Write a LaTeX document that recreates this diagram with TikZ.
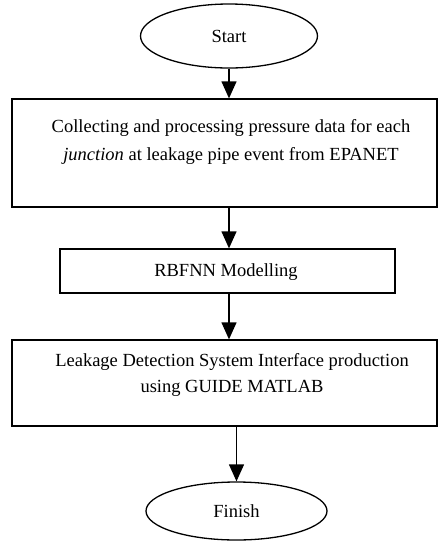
\documentclass[tikz,border=0pt]{standalone}
\usepackage{fontspec}
\setmainfont{Liberation Serif}
\usetikzlibrary{arrows.meta,shapes.geometric}
\begin{document}
\begin{tikzpicture}[x=1pt,y=-1pt,
  box/.style={draw,line width=1.3pt,rectangle,inner sep=0pt},
  term/.style={draw,line width=1.3pt,ellipse,inner sep=0pt,font=\fontsize{18.5}{22}\selectfont},
  txt/.style={font=\fontsize{18.5}{28}\selectfont,inner sep=0pt,align=center},
  flow/.style={line width=1.3pt,-{Triangle[length=17pt,width=15pt]}}]
\useasboundingbox (0,0) rectangle (439,542);
\node[term,minimum width=177pt,minimum height=64pt] (start) at (229,36) {Start};
\node[box,minimum width=425pt,minimum height=108pt] (b1) at (224.5,153) {};
\node[txt] (t1) at (231,142) {Collecting and processing pressure data for each\\\textit{junction} at leakage pipe event from EPANET};
\node[box,minimum width=335pt,minimum height=44pt] (b2) at (227.5,271) {};
\node[txt] (t2) at (226,272) {RBFNN Modelling};
\node[box,minimum width=425pt,minimum height=86pt] (b3) at (224.5,383) {};
\node[txt,font=\fontsize{18.5}{26}\selectfont] (t3) at (232,374.5) {Leakage Detection System Interface production\\using GUIDE MATLAB};
\node[term,minimum width=181pt,minimum height=58pt] (finish) at (236.5,511) {Finish};
\draw[flow] (start.south) -- (start.south |- b1.north);
\draw[flow] (b1.south -| start.south) -- (b2.north -| start.south);
\draw[flow] (b2.south -| start.south) -- (b3.north -| start.south);
\draw[flow] (b3.south -| finish.north) -- (finish.north);
\end{tikzpicture}
\end{document}
